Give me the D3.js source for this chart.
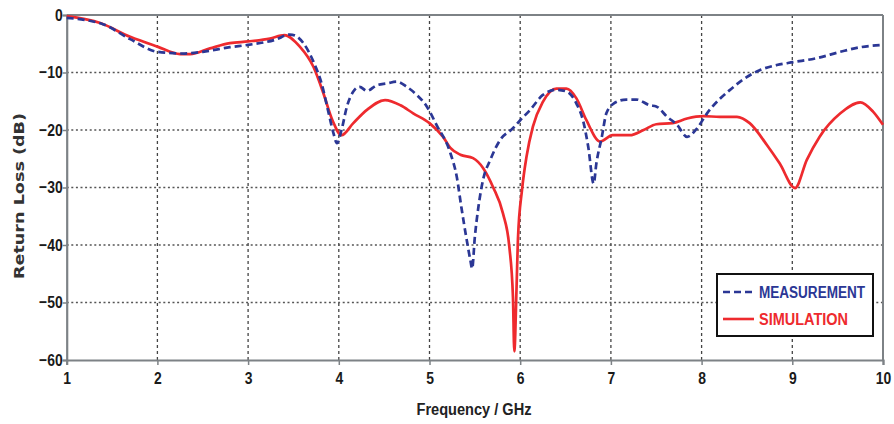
<!DOCTYPE html>
<html>
<head>
<meta charset="utf-8">
<script src="https://cdn.jsdelivr.net/npm/d3@7"></script>
<style>
  html, body { margin: 0; padding: 0; background: #fff; }
  svg { display: block; }
</style>
</head>
<body>
<svg id="chart" width="894" height="424"></svg>
<script>
// Frequency ticks (GHz) and return-loss ticks (dB)
const xTicks = [1, 2, 3, 4, 5, 6, 7, 8, 9, 10];
const yTicks = [0, -10, -20, -30, -40, -50, -60];

// Measured return loss
const measFreq = [1.0, 1.4, 1.7, 2.0, 2.3, 2.5, 2.8, 3.0, 3.3, 3.46, 3.52, 3.61, 3.72, 3.81, 3.88, 3.94, 3.98,
  4.03, 4.09, 4.16, 4.23, 4.31, 4.42, 4.53, 4.64, 4.75, 4.86, 4.97, 5.08, 5.23, 5.3, 5.35, 5.41, 5.45, 5.47,
  5.5, 5.54, 5.59, 5.67, 5.78, 5.92, 6.0, 6.11, 6.25, 6.4, 6.51, 6.62, 6.7, 6.75, 6.81, 6.84, 6.9, 6.95,
  7.03, 7.17, 7.28, 7.43, 7.5, 7.62, 7.73, 7.84, 7.95, 8.06, 8.2, 8.3, 8.46, 8.64, 8.83, 9.01, 9.27, 9.53, 9.75, 10.0];
const measDb = [-0.5, -1.6, -4.2, -6.4, -6.7, -6.4, -5.6, -5.2, -4.3, -3.4, -3.6, -4.9, -8.1, -11.9, -16.5, -20.5, -22.3,
  -20.0, -15.9, -13.3, -12.5, -13.2, -12.2, -11.9, -11.6, -12.5, -13.9, -15.9, -19.2, -24.0, -28.1, -33.3, -39.1, -42.6, -44.1,
  -38.6, -33.3, -28.7, -25.2, -21.7, -19.7, -18.3, -16.5, -13.9, -13.0, -13.3, -15.4, -18.8, -22.9, -29.3, -25.8, -21.2, -17.1,
  -15.4, -14.7, -14.7, -15.7, -15.9, -17.7, -19.1, -21.2, -19.7, -17.1, -14.6, -13.2, -11.2, -9.6, -8.7, -8.2, -7.5, -6.4, -5.6, -5.2];

// Simulated return loss
const simFreq = [1.0, 1.37, 1.7, 2.0, 2.25, 2.36, 2.58, 2.8, 3.0, 3.24, 3.4, 3.57, 3.72, 3.83, 3.93, 4.03, 4.16, 4.31,
  4.51, 4.68, 4.82, 5.0, 5.15, 5.23, 5.34, 5.48, 5.59, 5.7, 5.81, 5.88, 5.92, 5.935, 5.96, 5.975, 6.02, 6.07, 6.14,
  6.25, 6.4, 6.51, 6.62, 6.73, 6.88, 7.02, 7.21, 7.36, 7.5, 7.68, 7.84, 8.02, 8.2, 8.39, 8.53, 8.72, 8.86, 9.03,
  9.16, 9.3, 9.53, 9.75, 9.89, 10.0];
const simDb = [-0.2, -1.4, -3.8, -5.5, -6.8, -6.8, -5.8, -4.9, -4.6, -4.1, -3.5, -5.5, -9.0, -13.6, -18.3, -20.9, -18.8, -16.5,
  -14.8, -15.7, -17.1, -18.8, -21.2, -23.1, -24.3, -24.9, -26.6, -29.9, -34.5, -40.3, -49.0, -58.5, -47.3, -39.0, -30.4, -24.6, -19.4,
  -15.1, -12.8, -12.8, -14.5, -18.3, -22.0, -20.9, -20.9, -20.0, -19.0, -18.8, -18.0, -17.6, -17.7, -17.7, -18.8, -22.6, -25.8, -30.1,
  -25.2, -21.2, -17.1, -15.2, -16.8, -19.1];

const seriesNames = ["MEASUREMENT", "SIMULATION"];

const svg = d3.select("#chart");
const margin = { left: 66.7, right: 11, top: 15, bottom: 64 };
const W = 894, H = 424;
const x = d3.scaleLinear().domain([1, 10]).range([margin.left, W - margin.right]);
const y = d3.scaleLinear().domain([-60, 0]).range([H - margin.bottom, margin.top]);

const tickFont = "'Liberation Sans', Arial, sans-serif";
const axisColor = "#7d8286";

// Grid
const grid = svg.append("g");
grid.selectAll("line.v").data(xTicks.slice(1, -1)).join("line")
  .attr("x1", d => x(d)).attr("x2", d => x(d))
  .attr("y1", y(0)).attr("y2", y(-60))
  .attr("stroke", "#444").attr("stroke-width", 1.3).attr("stroke-dasharray", "3,3");
grid.selectAll("line.h").data(yTicks.slice(1, -1)).join("line")
  .attr("x1", x(1)).attr("x2", x(10))
  .attr("y1", d => y(d)).attr("y2", d => y(d))
  .attr("stroke", "#555").attr("stroke-width", 1.5).attr("stroke-dasharray", "2,2.6");

// Frame (top and right borders)
svg.append("line").attr("x1", x(1)).attr("x2", x(10)).attr("y1", y(0)).attr("y2", y(0))
  .attr("stroke", axisColor).attr("stroke-width", 2);
svg.append("line").attr("x1", x(10)).attr("x2", x(10)).attr("y1", y(0)).attr("y2", y(-60))
  .attr("stroke", axisColor).attr("stroke-width", 2);

// Axes
const xAxis = svg.append("g").attr("transform", `translate(0,${y(-60)})`)
  .call(d3.axisBottom(x).tickValues(xTicks).tickSize(5).tickFormat(d3.format("d")));
const yAxis = svg.append("g").attr("transform", `translate(${x(1)},0)`)
  .call(d3.axisLeft(y).tickValues(yTicks).tickSize(4).tickFormat(d3.format("d")));
[xAxis, yAxis].forEach(g => {
  g.select(".domain").attr("stroke", axisColor).attr("stroke-width", 2.2);
  g.selectAll(".tick line").attr("stroke", axisColor).attr("stroke-width", 1.5);
  g.selectAll(".tick text")
    .attr("fill", "#1a1a1a")
    .style("font-family", tickFont)
    .style("font-weight", "bold")
    .style("font-size", "17px");
});
// condensed look for the numerals
xAxis.selectAll(".tick text").attr("dy", null)
  .attr("transform", "translate(0,24) scale(0.82,1)").attr("y", 0);
yAxis.selectAll(".tick text").attr("x", null)
  .attr("transform", "translate(-4,0) scale(0.82,1)");

// Axis titles
svg.append("text")
  .attr("x", 474).attr("y", 415)
  .attr("text-anchor", "middle")
  .attr("textLength", 115).attr("lengthAdjust", "spacingAndGlyphs")
  .style("font-family", tickFont).style("font-weight", "bold").style("font-size", "16px")
  .attr("fill", "#222")
  .text("Frequency / GHz");
svg.append("text")
  .attr("transform", "translate(24,196) rotate(-90)")
  .attr("text-anchor", "middle")
  .attr("textLength", 166).attr("lengthAdjust", "spacingAndGlyphs")
  .style("font-family", "'DejaVu Sans', Verdana, sans-serif").style("font-weight", "bold").style("font-size", "14px")
  .attr("fill", "#333")
  .text("Return Loss (dB)");

// Curves
const line = d3.line().x(d => x(d[0])).y(d => y(d[1])).curve(d3.curveMonotoneX);
const meas = measFreq.map((f, i) => [f, measDb[i]]);
const sim = simFreq.map((f, i) => [f, simDb[i]]);

svg.append("path").datum(sim).attr("d", line)
  .attr("fill", "none").attr("stroke", "#ee2a2e").attr("stroke-width", 2.7)
  .attr("stroke-linejoin", "round");
svg.append("path").datum(meas).attr("d", line)
  .attr("fill", "none").attr("stroke", "#2b3795").attr("stroke-width", 2.7)
  .attr("stroke-dasharray", "7,4");

// Legend
const lg = svg.append("g");
lg.append("rect").attr("x", 717).attr("y", 274).attr("width", 156).attr("height", 62)
  .attr("fill", "#fff").attr("stroke", "#111").attr("stroke-width", 2);
const legendItems = [
  { name: seriesNames[0], color: "#2b3795", dash: "7,4", textColor: "#2b3795", len: 106 },
  { name: seriesNames[1], color: "#ee2a2e", dash: null, textColor: "#ee2a2e", len: 89 }
];
legendItems.forEach((d, i) => {
  const yy = 292 + i * 27;
  lg.append("line").attr("x1", 723).attr("x2", 754).attr("y1", yy).attr("y2", yy)
    .attr("stroke", d.color).attr("stroke-width", 2.6)
    .attr("stroke-dasharray", d.dash);
  lg.append("text").attr("x", 759).attr("y", yy + 6)
    .attr("textLength", d.len).attr("lengthAdjust", "spacingAndGlyphs")
    .style("font-family", tickFont).style("font-weight", "bold").style("font-size", "16px")
    .attr("fill", d.textColor)
    .text(d.name);
});
</script>
</body>
</html>
